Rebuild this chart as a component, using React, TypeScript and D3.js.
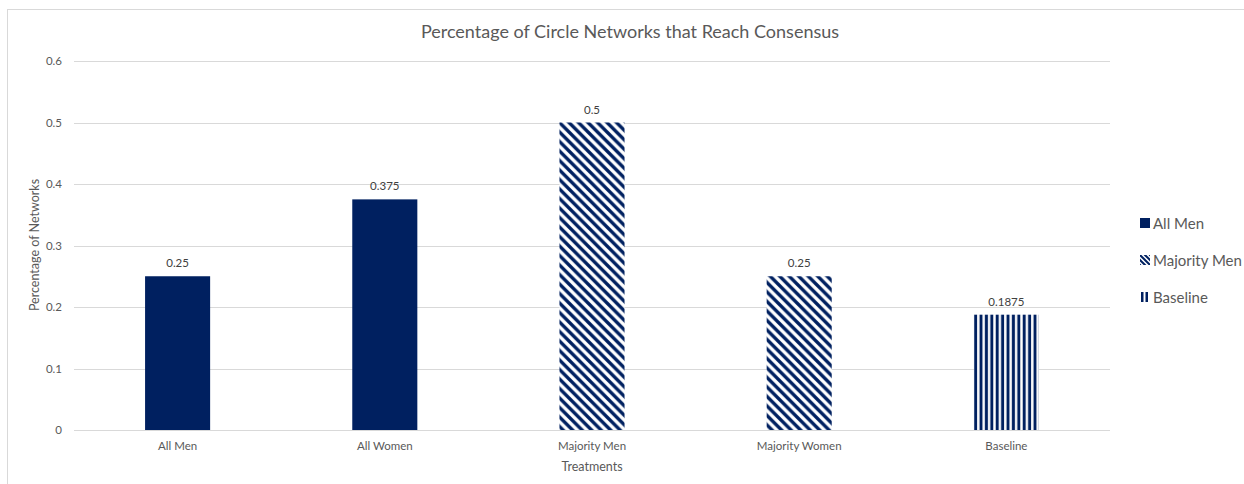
import React from "react";
import * as d3 from "d3";

const categories = ["All Men", "All Women", "Majority Men", "Majority Women", "Baseline"];
const values = [0.25, 0.375, 0.5, 0.25, 0.1875];
const fills = ["solid", "solid", "diag", "diag", "vert"];
const yTicks = [0, 0.1, 0.2, 0.3, 0.4, 0.5, 0.6];
const legendItems = [
  { label: "All Men", fill: "solid" },
  { label: "Majority Men", fill: "diag" },
  { label: "Baseline", fill: "vert" },
];

const W = 1244;
const H = 484;
const NAVY = "#002060";
const FONT = "Lato, 'Open Sans', sans-serif";
const TEXT = "#595959";

const plot = { left: 74, right: 1110, top: 61, bottom: 430 };

function fillFor(kind: string) {
  if (kind === "diag") return "url(#pat-diag)";
  if (kind === "vert") return "url(#pat-vert)";
  return NAVY;
}

export default function App() {
  const x = d3
    .scaleBand<string>()
    .domain(categories)
    .range([plot.left, plot.right])
    .paddingInner(0.686)
    .paddingOuter(0.343);
  const y = d3.scaleLinear().domain([0, 0.6]).range([plot.bottom, plot.top]);
  const fmt = (v: number) => String(v);

  return (
    <svg
      width={W}
      height={H}
      style={{ position: "absolute", left: 0, top: 0, background: "#fff" }}
      fontFamily={FONT}
    >
      <defs>
        <pattern id="pat-diag" patternUnits="userSpaceOnUse" width={9.5} height={9.5}>
          <rect width={9.5} height={9.5} fill="#fff" />
          <path d="M-2,-2 L11.5,11.5 M-2,7.5 L2,11.5 M7.5,-2 L11.5,2" stroke={NAVY} strokeWidth={3.4} />
        </pattern>
        <pattern id="pat-vert" patternUnits="userSpaceOnUse" width={5.4} height={10} x={0.5}>
          <rect width={5.4} height={10} fill="#fff" />
          <rect x={1.6} width={3} height={10} fill={NAVY} />
        </pattern>
        <pattern id="pat-diag-small" patternUnits="userSpaceOnUse" width={5} height={5}>
          <rect width={5} height={5} fill="#fff" />
          <path d="M-1,-1 L6,6 M-1,4 L1,6 M4,-1 L6,1" stroke={NAVY} strokeWidth={2} />
        </pattern>
      </defs>

      <rect x={7.5} y={9.5} width={W} height={H} fill="#fff" stroke="#d9d9d9" />

      <text x={630} y={38} textAnchor="middle" fontSize={18} fill={TEXT}>
        Percentage of Circle Networks that Reach Consensus
      </text>

      {yTicks.map((t) => (
        <g key={t}>
          <line
            x1={plot.left}
            x2={plot.right}
            y1={Math.round(y(t)) + 0.5}
            y2={Math.round(y(t)) + 0.5}
            stroke="#d9d9d9"
          />
          <text x={62} y={y(t) + 4} textAnchor="end" fontSize={11.5} fill={TEXT}>
            {fmt(t)}
          </text>
        </g>
      ))}

      <text
        transform={`translate(39,245) rotate(-90)`}
        textAnchor="middle"
        fontSize={12.5}
        fill={TEXT}
      >
        Percentage of Networks
      </text>

      {categories.map((c, i) => {
        const bx = x(c)!;
        const by = y(values[i]);
        return (
          <g key={c}>
            <rect
              x={bx}
              y={by}
              width={x.bandwidth()}
              height={y(0) - by}
              fill={fillFor(fills[i])}
            />
            <text
              x={bx + x.bandwidth() / 2}
              y={by - 9}
              textAnchor="middle"
              fontSize={11.5}
              fill="#404040"
            >
              {fmt(values[i])}
            </text>
            <text
              x={bx + x.bandwidth() / 2}
              y={450}
              textAnchor="middle"
              fontSize={11.5}
              fill={TEXT}
            >
              {c}
            </text>
          </g>
        );
      })}

      <text x={(plot.left + plot.right) / 2} y={471} textAnchor="middle" fontSize={12.5} fill={TEXT}>
        Treatments
      </text>

      {legendItems.map((it, i) => {
        const ly = 223 + i * 37;
        return (
          <g key={it.label}>
            {it.fill === "solid" && <rect x={1140} y={ly - 5} width={10} height={10} fill={NAVY} />}
            {it.fill === "diag" && (
              <rect x={1140} y={ly - 5} width={10} height={10} fill="url(#pat-diag-small)" />
            )}
            {it.fill === "vert" && (
              <g>
                <rect x={1141} y={ly - 5} width={2.5} height={10} fill={NAVY} />
                <rect x={1145.5} y={ly - 5} width={2.5} height={10} fill={NAVY} />
              </g>
            )}
            <text x={1153} y={ly + 5.5} fontSize={15} fill={TEXT}>
              {it.label}
            </text>
          </g>
        );
      })}
    </svg>
  );
}
